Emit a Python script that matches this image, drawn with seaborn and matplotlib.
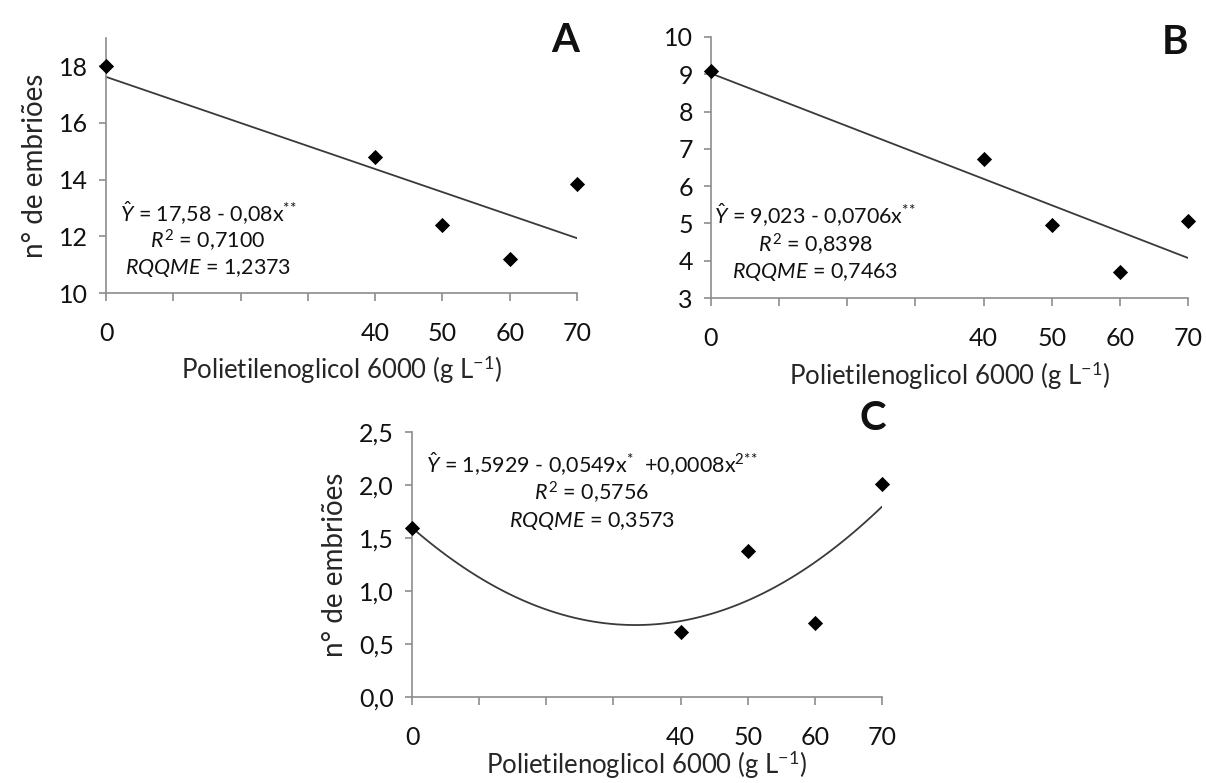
import numpy as np
import pandas as pd
import matplotlib
matplotlib.use("Agg")
import matplotlib.pyplot as plt
import seaborn as sns

# ---- data ----
peg = [0, 40, 50, 60, 70]
emb_A = [18.0, 14.8, 12.4, 11.2, 13.85]
emb_B = [9.1, 6.72, 4.97, 3.7, 5.07]
emb_C = [1.59, 0.61, 1.38, 0.70, 2.01]
xtick_pos = [0, 10, 20, 30, 40, 50, 60, 70]
xtick_lab = ["0", "", "", "", "40", "50", "60", "70"]
yticks_A = [10, 12, 14, 16, 18]
yticks_B = [3, 4, 5, 6, 7, 8, 9, 10]
yticks_C = [0.0, 0.5, 1.0, 1.5, 2.0, 2.5]
eq_A = [r"$\hat{Y}$ = 17,58 - 0,08x$^{{*}{*}}$", r"$R^2$ = 0,7100", r"$RQQME$ = 1,2373"]
eq_B = [r"$\hat{Y}$ = 9,023 - 0,0706x$^{{*}{*}}$", r"$R^2$ = 0,8398", r"$RQQME$ = 0,7463"]
eq_C = [r"$\hat{Y}$ = 1,5929 - 0,0549x$^{{*}}$  +0,0008x$^{2{*}{*}}$", r"$R^2$ = 0,5756", r"$RQQME$ = 0,3573"]

sns.set_style("white")
plt.rcParams["font.family"] = ["Lato", "DejaVu Sans"]
plt.rcParams["mathtext.fontset"] = "custom"
plt.rcParams["mathtext.rm"] = "Lato"
plt.rcParams["mathtext.it"] = "Lato:italic"
plt.rcParams["mathtext.bf"] = "Lato:bold"
plt.rcParams["text.color"] = "#111111"

W, H = 1206, 783
fig = plt.figure(figsize=(W / 100, H / 100), dpi=100)


def px_axes(l, t, r, b):
    return fig.add_axes([l / W, 1 - b / H, (r - l) / W, (b - t) / H])


def style(ax, yticks, ylim, yfmt, ylabel, xlabelpad):
    ax.set_xlim(0, 70)
    ax.set_ylim(*ylim)
    ax.set_xticks(xtick_pos)
    ax.set_xticklabels(xtick_lab)
    ax.set_yticks(yticks)
    ax.set_yticklabels([yfmt(v) for v in yticks])
    for s in ["top", "right"]:
        ax.spines[s].set_visible(False)
    for s in ["left", "bottom"]:
        ax.spines[s].set_color("#8c8c8c")
        ax.spines[s].set_linewidth(1.2)
    ax.tick_params(axis="x", direction="out", length=6, width=1.2, color="#8c8c8c",
                   pad=15, labelsize=18, bottom=True, labelcolor="#111111")
    ax.tick_params(axis="y", direction="out", length=5, width=1.2, color="#8c8c8c",
                   pad=8, labelsize=18, left=True, labelcolor="#111111")
    ax.set_xlabel("Polietilenoglicol 6000 (g L$^{-1}$)", fontsize=18.5, labelpad=xlabelpad)
    if ylabel:
        ax.set_ylabel("n° de embriões", fontsize=20, labelpad=8)
    else:
        ax.set_ylabel("")


def draw(ax, y, order):
    df = pd.DataFrame({"x": peg, "y": y})
    sns.regplot(data=df, x="x", y="y", order=order, ci=None, ax=ax, marker="D",
                color="black",
                scatter_kws={"s": 60, "alpha": 1, "clip_on": False, "zorder": 3,
                             "edgecolors": "black", "linewidths": 0},
                line_kws={"color": "#3a3a3a", "lw": 1.3})


axA = px_axes(106, 38, 577, 293)
draw(axA, emb_A, 1)
style(axA, yticks_A, (10, 19), lambda v: f"{v:d}", True, 6)

axB = px_axes(711, 37, 1188, 298)
draw(axB, emb_B, 1)
style(axB, yticks_B, (3, 10), lambda v: f"{v:d}", False, 7)

axC = px_axes(412, 432, 882, 697)
draw(axC, emb_C, 2)
style(axC, yticks_C, (0, 2.5), lambda v: f"{v:.1f}".replace(".", ","), True, 0)


def eq(lines, cx, ys):
    for s, yy in zip(lines, ys):
        fig.text(cx / W, 1 - yy / H, s, ha="center", va="center", fontsize=15.5)


eq(eq_A, 208, [213, 241, 268])
eq(eq_B, 815, [215, 245, 272])
eq(eq_C, 592, [464, 493, 521])

fig.text(565 / W, 1 - 40 / H, "A", fontsize=29, fontweight="bold", ha="center", va="center")
fig.text(1175 / W, 1 - 42 / H, "B", fontsize=29, fontweight="bold", ha="center", va="center")
fig.text(873 / W, 1 - 418 / H, "C", fontsize=29, fontweight="bold", ha="center", va="center")

fig.savefig("out.png", dpi=100)
